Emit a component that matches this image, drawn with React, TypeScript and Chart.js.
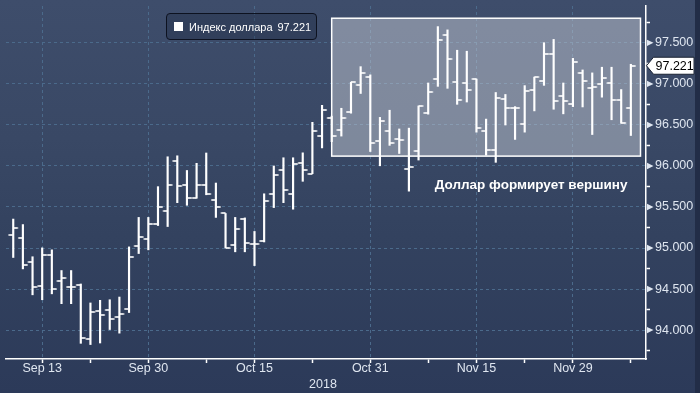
import React, { useEffect, useRef } from 'react';
import { Chart, registerables } from 'chart.js';

Chart.register(...registerables);

// ---- data ----
const OPEN = [
  95.154, 95.118, 94.83, 94.543, 94.921, 94.603, 94.531, 94.55, 93.896, 94.231,
  94.243, 94.155, 94.255, 95.022, 95.106, 95.298, 95.453, 96.064, 95.765, 95.613,
  95.765, 95.585, 95.421, 95.034, 95.349, 95.044, 95.086, 95.664, 95.945, 95.661,
  96.032, 95.906, 96.364, 96.58, 96.439, 96.661, 96.988, 97.089, 96.302, 96.431,
  96.323, 95.957, 96.184, 96.64, 97.059, 97.598, 97.023, 97.011, 97.059, 96.424,
  96.196, 96.82, 96.712, 96.508, 96.922, 97.039, 97.37, 96.855, 96.759, 97.131,
  96.946, 97.0, 97.015, 96.807, 96.712,
];
const HIGH = [
  95.353, 95.286, 94.894, 95.002, 94.978, 94.726, 94.726, 94.562, 94.331, 94.363,
  94.37, 94.403, 95.014, 95.373, 95.373, 95.748, 96.112, 96.124, 95.945, 96.032,
  96.158, 95.792, 95.421, 95.373, 95.367, 95.202, 95.661, 96.0, 96.1, 96.1,
  96.16, 96.532, 96.739, 96.607, 96.703, 97.021, 97.21, 97.11, 96.592, 96.679,
  96.451, 96.461, 96.731, 97.011, 97.698, 97.658, 97.41, 97.398, 97.059, 96.571,
  96.895, 96.871, 96.723, 96.979, 97.083, 97.502, 97.542, 97.011, 97.311, 97.17,
  97.134, 97.203, 97.203, 96.931, 97.239,
];
const LOW = [
  94.885, 94.746, 94.43, 94.37, 94.442, 94.322, 94.322, 93.839, 93.824, 93.843,
  94.007, 93.963, 94.214, 94.933, 94.978, 95.274, 95.262, 95.553, 95.521, 95.607,
  95.649, 95.373, 95.002, 94.954, 94.954, 94.786, 95.074, 95.493, 95.553, 95.473,
  95.813, 95.906, 96.22, 96.296, 96.364, 96.643, 96.883, 96.176, 96.002, 96.251,
  96.152, 95.693, 96.072, 96.631, 96.97, 96.946, 96.751, 96.779, 96.412, 96.132,
  96.044, 96.499, 96.323, 96.412, 96.671, 96.982, 96.691, 96.635, 96.723, 96.719,
  96.383, 96.838, 96.563, 96.52, 96.371,
];
const CLOSE = [
  95.25, 94.794, 94.522, 94.921, 94.498, 94.639, 94.531, 93.908, 94.219, 94.183,
  94.131, 94.195, 94.89, 95.13, 95.298, 95.505, 95.765, 95.753, 95.613, 95.765,
  95.664, 95.501, 95.002, 95.226, 95.062, 95.044, 95.573, 95.892, 95.712, 96.024,
  95.952, 96.431, 96.683, 96.364, 96.58, 97.021, 97.134, 96.281, 96.544, 96.278,
  96.311, 95.993, 96.731, 96.903, 97.538, 97.299, 96.803, 96.922, 96.463, 96.196,
  96.831, 96.712, 96.712, 96.919, 97.083, 97.37, 96.787, 96.787, 97.27, 97.03,
  96.963, 97.071, 96.807, 96.52, 97.221,
];

const X_TICK_POS = [3, 14, 25, 37, 48, 58];
const X_TICK_LABELS = ['Sep 13', 'Sep 30', 'Oct 15', 'Oct 31', 'Nov 15', 'Nov 29'];
const X_MINOR_POS = [8, 20, 31, 43, 53, 64];
const YEAR_LABEL = '2018';
const YEAR_POS = 32.1;

const Y_MAJOR = [94, 94.5, 95, 95.5, 96, 96.5, 97, 97.5];
const Y_MINOR = [93.75, 94.25, 94.75, 95.25, 95.75, 96.25, 96.75, 97.25, 97.75];

const SERIES_NAME = 'Индекс доллара';
const LAST_VALUE = 97.221;
const NOTE_TEXT = 'Доллар формирует вершину';

// highlight box, in data units: [from index, to index], [low value, high value]
const HIGHLIGHT_X = [33, 65];
const HIGHLIGHT_Y = [96.12, 97.8];
// note anchor (data units)
const NOTE_AT = [53.66, 95.77];

const FONT = "'Liberation Sans', Arial, sans-serif";
const GRID = '#4b6a8b';
const LABEL = '#dfe6f0';

const isMajorY = (v: number) => Y_MAJOR.some((m) => Math.abs(m - v) < 1e-6);

export default function App() {
  const ref = useRef<HTMLCanvasElement | null>(null);

  useEffect(() => {
    const canvas = ref.current;
    if (!canvas) return;

    const mkTick = (left: boolean) => {
      const c = document.createElement('canvas');
      c.width = 12;
      c.height = 2;
      const g = c.getContext('2d')!;
      g.fillStyle = '#ffffff';
      if (left) g.fillRect(1.3, 0.2, 4.7, 1.6);
      else g.fillRect(6, 0.2, 4.7, 1.6);
      return c;
    };
    const openImg = mkTick(true);
    const closeImg = mkTick(false);

    const decor = {
      id: 'decor',
      beforeDatasetsDraw(chart: any) {
        const { ctx, scales } = chart;
        const x0 = scales.x.getPixelForValue(HIGHLIGHT_X[0]);
        const x1 = scales.x.getPixelForValue(HIGHLIGHT_X[1]);
        const y0 = scales.y.getPixelForValue(HIGHLIGHT_Y[1]);
        const y1 = scales.y.getPixelForValue(HIGHLIGHT_Y[0]);
        ctx.save();
        ctx.fillStyle = 'rgba(210,214,222,0.46)';
        ctx.fillRect(x0, y0, x1 - x0, y1 - y0);
        ctx.strokeStyle = '#ffffff';
        ctx.lineWidth = 1.5;
        ctx.strokeRect(x0, y0, x1 - x0, y1 - y0);
        ctx.restore();
      },
      afterDraw(chart: any) {
        const { ctx, scales, chartArea } = chart;
        const ys = scales.y;
        const xs = scales.x;
        ctx.save();
        // triangles on the right axis at major ticks
        ctx.fillStyle = LABEL;
        Y_MAJOR.forEach((v) => {
          const y = ys.getPixelForValue(v);
          ctx.beginPath();
          ctx.moveTo(chartArea.right + 1, y - 3.2);
          ctx.lineTo(chartArea.right + 7.5, y);
          ctx.lineTo(chartArea.right + 1, y + 3.2);
          ctx.closePath();
          ctx.fill();
        });
        // last value tag
        const ly = ys.getPixelForValue(LAST_VALUE);
        const tipX = chartArea.right + 0.5;
        ctx.beginPath();
        ctx.moveTo(tipX, ly);
        ctx.lineTo(tipX + 7, ly - 8.5);
        ctx.lineTo(694, ly - 8.5);
        ctx.lineTo(694, ly + 8.5);
        ctx.lineTo(tipX + 7, ly + 8.5);
        ctx.closePath();
        ctx.fillStyle = '#ffffff';
        ctx.fill();
        ctx.strokeStyle = '#1a2233';
        ctx.lineWidth = 1;
        ctx.stroke();
        ctx.fillStyle = '#000000';
        ctx.font = `12.5px ${FONT}`;
        ctx.textBaseline = 'middle';
        ctx.textAlign = 'left';
        ctx.fillText(LAST_VALUE.toFixed(3), 655.5, ly + 0.5);

        // note
        ctx.fillStyle = '#ffffff';
        ctx.font = `bold 13.5px ${FONT}`;
        ctx.textAlign = 'center';
        ctx.fillText(NOTE_TEXT, xs.getPixelForValue(NOTE_AT[0]), ys.getPixelForValue(NOTE_AT[1]));

        // year
        ctx.fillStyle = LABEL;
        ctx.font = `12.5px ${FONT}`;
        ctx.fillText(YEAR_LABEL, xs.getPixelForValue(YEAR_POS), 384.5);

        // legend
        const lx = 166.5, lyy = 13.5, lw = 150, lh = 26, r = 3.5;
        ctx.beginPath();
        ctx.moveTo(lx + r, lyy);
        ctx.lineTo(lx + lw - r, lyy);
        ctx.arcTo(lx + lw, lyy, lx + lw, lyy + r, r);
        ctx.lineTo(lx + lw, lyy + lh - r);
        ctx.arcTo(lx + lw, lyy + lh, lx + lw - r, lyy + lh, r);
        ctx.lineTo(lx + r, lyy + lh);
        ctx.arcTo(lx, lyy + lh, lx, lyy + lh - r, r);
        ctx.lineTo(lx, lyy + r);
        ctx.arcTo(lx, lyy, lx + r, lyy, r);
        ctx.closePath();
        ctx.fillStyle = 'rgba(30,40,62,0.35)';
        ctx.fill();
        ctx.strokeStyle = '#0d1220';
        ctx.lineWidth = 1;
        ctx.stroke();
        ctx.fillStyle = '#ffffff';
        ctx.fillRect(174, 22, 9, 9);
        ctx.font = `11px ${FONT}`;
        ctx.textAlign = 'left';
        ctx.textBaseline = 'alphabetic';
        ctx.fillText(SERIES_NAME, 189, 31);
        ctx.fillText(LAST_VALUE.toFixed(3), 277.5, 31);
        ctx.restore();
      },
    };

    const chart = new Chart(canvas, {
      type: 'bar',
      data: {
        datasets: [
          {
            type: 'bar',
            data: HIGH.map((h, i) => ({ x: i, y: [LOW[i], h] })) as any,
            backgroundColor: '#ffffff',
            borderWidth: 0,
            barThickness: 1.5,
            grouped: false,
          } as any,
          {
            type: 'line',
            data: OPEN.map((v, i) => ({ x: i, y: v })),
            showLine: false,
            pointStyle: openImg as any,
            pointRadius: 5,
            pointHoverRadius: 5,
          } as any,
          {
            type: 'line',
            data: CLOSE.map((v, i) => ({ x: i, y: v })),
            showLine: false,
            pointStyle: closeImg as any,
            pointRadius: 5,
            pointHoverRadius: 5,
          } as any,
        ],
      },
      options: {
        animation: false,
        responsive: false,
        devicePixelRatio: 1,
        events: [],
        layout: { padding: 0 },
        plugins: { legend: { display: false }, tooltip: { enabled: false } },
        scales: {
          x: {
            type: 'linear',
            min: -0.75,
            max: 65.57,
            offset: false,
            afterBuildTicks: (s: any) => {
              s.ticks = [...X_TICK_POS, ...X_MINOR_POS].sort((a, b) => a - b).map((v) => ({ value: v }));
            },
            afterFit: (s: any) => {
              s.height = 34;
              s.paddingLeft = 0;
              s.paddingRight = 0;
            },
            ticks: {
              autoSkip: false,
              maxRotation: 0,
              padding: -2,
              color: LABEL,
              font: { family: FONT, size: 12.5 },
              callback: (v: any) => {
                const i = X_TICK_POS.indexOf(Number(v));
                return i >= 0 ? X_TICK_LABELS[i] : '';
              },
            },
            grid: {
              offset: false,
              color: (c: any) => (c.tick && X_TICK_POS.includes(c.tick.value) ? GRID : 'transparent'),
              lineWidth: 1,
              tickColor: '#ffffff',
              tickLength: 4,
              tickWidth: 1.5,
            },
            border: { color: '#ffffff', width: 1.5, dash: [3, 3] },
          } as any,
          y: {
            type: 'linear',
            position: 'right',
            min: 93.648,
            max: 97.949,
            afterBuildTicks: (s: any) => {
              s.ticks = [...Y_MAJOR, ...Y_MINOR].sort((a, b) => a - b).map((v) => ({ value: v }));
            },
            afterFit: (s: any) => {
              s.width = 54;
              s.paddingTop = 0;
              s.paddingBottom = 0;
            },
            ticks: {
              autoSkip: false,
              padding: 5,
              color: LABEL,
              font: { family: FONT, size: 12.5 },
              callback: (v: any) => (isMajorY(Number(v)) ? Number(v).toFixed(3) : ''),
            },
            grid: {
              color: (c: any) => (c.tick && isMajorY(c.tick.value) ? GRID : 'transparent'),
              lineWidth: 1,
              tickColor: (c: any) => (c.tick && isMajorY(c.tick.value) ? 'transparent' : '#ffffff'),
              tickLength: 4,
              tickWidth: 1.5,
            },
            border: { color: '#ffffff', width: 1.5, dash: [3, 3] },
          } as any,
        },
      },
      plugins: [decor],
    } as any);

    return () => chart.destroy();
  }, []);

  return (
    <div
      style={{
        position: 'fixed',
        left: 0,
        top: 0,
        width: 700,
        height: 393,
        overflow: 'hidden',
        background: 'linear-gradient(to bottom, #3e4d6b 0%, #394865 35%, #33425f 60%, #2c3a59 100%)',
      }}
    >
      <canvas ref={ref} width={700} height={393} style={{ display: 'block', width: 700, height: 393 }} />
      <div style={{ position: 'absolute', right: 0, top: 0, width: 5, height: 393, background: '#222d47' }} />
    </div>
  );
}
